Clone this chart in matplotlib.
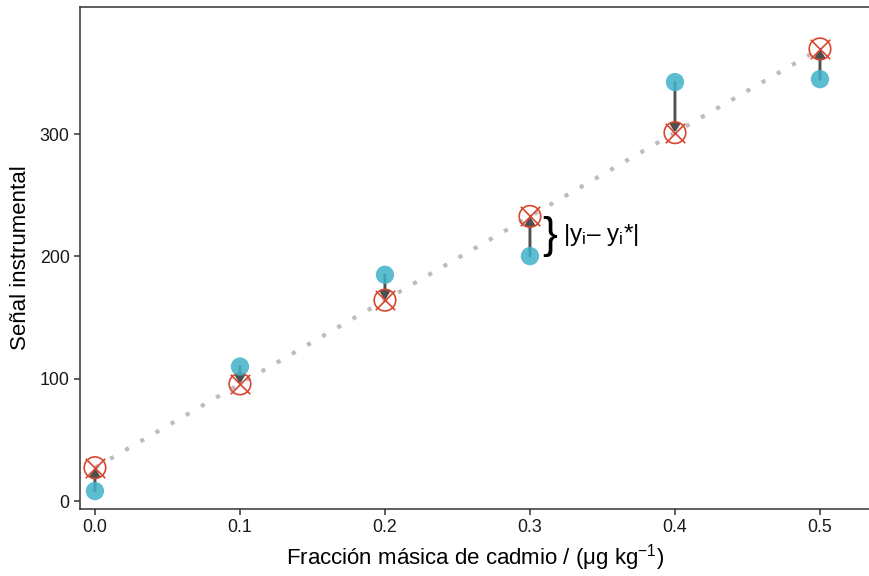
import numpy as np
import matplotlib
matplotlib.use("Agg")
import matplotlib.pyplot as plt

plt.rcParams['font.family'] = ['Liberation Sans', 'DejaVu Sans']
plt.rcParams['mathtext.fontset'] = 'custom'
plt.rcParams['mathtext.rm'] = 'Liberation Sans'
plt.rcParams['mathtext.it'] = 'Liberation Sans'
plt.rcParams['mathtext.bf'] = 'Liberation Sans:bold'

# Data
concentracion = [0.0, 0.1, 0.2, 0.3, 0.4, 0.5]
senal = [8.2, 110.0, 185.0, 200.3, 342.6, 345.0]
x_ticks = [0.0, 0.1, 0.2, 0.3, 0.4, 0.5]
x_ticklabels = ['0.0', '0.1', '0.2', '0.3', '0.4', '0.5']
y_ticks = [0, 100, 200, 300]
y_ticklabels = ['0', '100', '200', '300']

x = np.array(concentracion)
y = np.array(senal)
slope, intercept = np.polyfit(x, y, 1)
y_fit = intercept + slope * x

fig = plt.figure(figsize=(8.7, 5.76), dpi=100)
ax = fig.add_axes([80/870, (576-509)/576, (870-80)/870, (509-7)/576])

# regression line
ax.plot(x, y_fit, color='#BDBDBD', lw=3, linestyle=(0, (1, 3.2)), zorder=1,
        solid_capstyle='butt', dash_capstyle='butt')

# residual arrows
for xi, yi, fi in zip(x, y, y_fit):
    ax.annotate('', xy=(xi, fi), xytext=(xi, yi),
                arrowprops=dict(arrowstyle='-|>,head_length=0.45,head_width=0.28',
                                color='#505050', lw=2.1, shrinkA=0, shrinkB=0),
                zorder=2)

# fitted points
ax.scatter(x, y_fit, s=15.5**2, facecolors='none', edgecolors='#D9462F',
           linewidths=1.2, zorder=3)
ax.scatter(x, y_fit, s=14**2, marker='x', color='#D9462F', linewidths=1.2, zorder=3)

# observed points
ax.scatter(x, y, s=13.2**2, color='#3FB2C9', alpha=0.85, edgecolors='none', zorder=4)

# annotation
xa = concentracion[3]
ymid = (senal[3] + y_fit[3]) / 2
ax.text(xa + 0.0135, ymid, '}', fontsize=32, ha='center', va='center', color='black')
ax.text(xa + 0.0225, ymid + 1, r'|y$_\mathregular{i}$– y$_\mathregular{i}$*|', fontsize=17.5,
        ha='left', va='center', color='black')

ax.set_xlim(-0.0103, 0.5345)
ax.set_ylim(-6.5, 404)
ax.set_xticks(x_ticks)
ax.set_xticklabels(x_ticklabels)
ax.set_yticks(y_ticks)
ax.set_yticklabels(y_ticklabels)

for s in ['right']:
    ax.spines[s].set_visible(False)
for s in ['left', 'bottom', 'top']:
    ax.spines[s].set_color('#333333')
    ax.spines[s].set_linewidth(1.1)

ax.tick_params(axis='both', direction='out', length=4.5, width=1.1, color='#333333',
               labelsize=12.8, labelcolor='#1a1a1a', pad=3)

ax.set_xlabel(r'Fracción másica de cadmio / (μg kg$^{\mathregular{-1}}$)', fontsize=16,
              labelpad=4)
ax.set_ylabel('Señal instrumental', fontsize=16, labelpad=6)

fig.savefig('out.png', dpi=100)
